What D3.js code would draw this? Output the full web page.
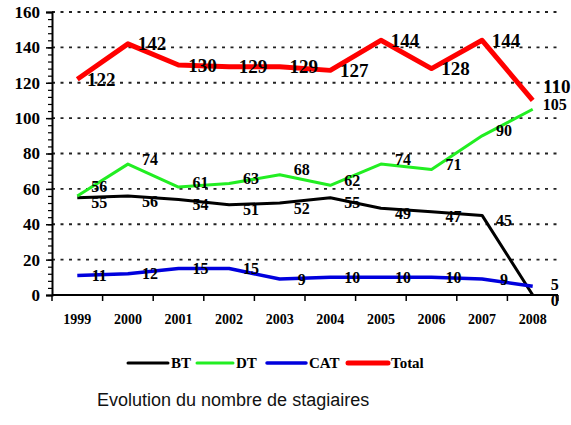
<!DOCTYPE html>
<html>
<head>
<meta charset="utf-8">
<script src="https://cdn.jsdelivr.net/npm/d3@7"></script>
<style>
  body { margin: 0; background: #fff; }
  svg { display: block; }
  .tick-label { font-family: "Liberation Serif", "Times New Roman", serif; font-weight: bold; }
</style>
</head>
<body>
<svg id="chart" width="571" height="425"></svg>
<script>
var years = ["1999", "2000", "2001", "2002", "2003", "2004", "2005", "2006", "2007", "2008"];
var bt = [55, 56, 54, 51, 52, 55, 49, 47, 45, 0];
var dt = [56, 74, 61, 63, 68, 62, 74, 71, 90, 105];
var cat = [11, 12, 15, 15, 9, 10, 10, 10, 9, 5];
var total = [122, 142, 130, 129, 129, 127, 144, 128, 144, 110];
var yTicks = [0, 20, 40, 60, 80, 100, 120, 140, 160];
var seriesNames = ["BT", "DT", "CAT", "Total"];
var title = "Evolution du nombre de stagiaires";

var series = [
  { name: "BT", values: bt, color: "#000000", width: 3, dy: 5, size: 16 },
  { name: "DT", values: dt, color: "#22ee22", width: 3, dy: -5, size: 16 },
  { name: "CAT", values: cat, color: "#0000dd", width: 3.5, dy: 0, size: 16 },
  { name: "Total", values: total, color: "#ff0000", width: 5, dy: 0, size: 19 }
];

var svg = d3.select("#chart");
var plotLeft = 52, plotRight = 558, plotTop = 12, plotBottom = 295;

var x = d3.scaleBand().domain(years).range([plotLeft, plotRight]).padding(0);
var y = d3.scaleLinear().domain([0, 160]).range([plotBottom, plotTop]);

// dotted grid lines
svg.append("g")
  .selectAll("line")
  .data(yTicks.filter(function(d) { return d > 0; }))
  .enter()
  .append("line")
  .attr("x1", plotLeft)
  .attr("x2", plotRight)
  .attr("y1", function(d) { return y(d); })
  .attr("y2", function(d) { return y(d); })
  .attr("stroke", "#222")
  .attr("stroke-width", 1.8)
  .attr("stroke-dasharray", "3,5.5");

// y axis with minor ticks
var yAxisMinor = d3.axisLeft(y).tickValues(d3.range(0, 161, 4)).tickSize(4).tickFormat("");
svg.append("g")
  .attr("transform", "translate(" + plotLeft + ",0)")
  .call(yAxisMinor)
  .call(function(g) {
    g.select(".domain").remove();
    g.selectAll("line").attr("stroke", "#000").attr("stroke-width", 1.2);
  });

var yAxis = d3.axisLeft(y).tickValues(yTicks).tickSize(6).tickPadding(6);
svg.append("g")
  .attr("transform", "translate(" + plotLeft + ",0)")
  .call(yAxis)
  .call(function(g) {
    g.select(".domain").attr("stroke", "#000").attr("stroke-width", 2);
    g.selectAll("line").attr("stroke", "#000").attr("stroke-width", 1.5);
    g.selectAll("text")
      .attr("class", "tick-label")
      .style("font-size", "17px")
      .attr("fill", "#000");
  });

// x axis: ticks on band edges, labels on band centres
var xAxisG = svg.append("g").attr("transform", "translate(0," + plotBottom + ")");
xAxisG.append("line")
  .attr("x1", plotLeft).attr("x2", plotRight)
  .attr("stroke", "#000").attr("stroke-width", 2);
xAxisG.selectAll("line.edge")
  .data(years.concat(["end"]))
  .enter()
  .append("line")
  .attr("class", "edge")
  .attr("x1", function(d, i) { return plotLeft + i * x.bandwidth(); })
  .attr("x2", function(d, i) { return plotLeft + i * x.bandwidth(); })
  .attr("y1", 0)
  .attr("y2", 6)
  .attr("stroke", "#000")
  .attr("stroke-width", 1.5);
xAxisG.selectAll("text")
  .data(years)
  .enter()
  .append("text")
  .attr("class", "tick-label")
  .attr("x", function(d) { return x(d) + x.bandwidth() / 2; })
  .attr("y", 29)
  .attr("text-anchor", "middle")
  .style("font-size", "14px")
  .text(function(d) { return d; });

// lines
var line = d3.line()
  .x(function(d, i) { return x(years[i]) + x.bandwidth() / 2; })
  .y(function(d) { return y(d); });

svg.append("g")
  .selectAll("path")
  .data(series)
  .enter()
  .append("path")
  .attr("d", function(s) { return line(s.values); })
  .attr("fill", "none")
  .attr("stroke", function(s) { return s.color; })
  .attr("stroke-width", function(s) { return s.width; })
  .attr("stroke-linejoin", "round");

// data labels, nudged apart when they collide at the same year
var labels = [];
series.forEach(function(s) {
  s.values.forEach(function(v, i) {
    labels.push({
      series: s,
      value: v,
      index: i,
      x: x(years[i]) + x.bandwidth() / 2 + (s.name === "Total" ? 24 : 22),
      y: y(v) + s.dy
    });
  });
});
years.forEach(function(yr, i) {
  var group = labels.filter(function(l) { return l.index === i; })
    .sort(function(a, b) { return b.y - a.y; });
  for (var k = 1; k < group.length; k++) {
    var gap = group[k].series.size >= 19 ? 18 : 16;
    if (group[k - 1].y - group[k].y < gap) {
      group[k].y = group[k - 1].y - gap;
    }
  }
});

svg.append("g")
  .selectAll("text")
  .data(labels)
  .enter()
  .append("text")
  .attr("class", "tick-label")
  .attr("x", function(d) { return d.x; })
  .attr("y", function(d) { return d.y; })
  .attr("dy", "0.35em")
  .attr("text-anchor", "middle")
  .style("font-size", function(d) { return d.series.size + "px"; })
  .attr("fill", "#000")
  .text(function(d) { return d.value; });

// legend
var legendItems = [
  { x: 128, w: 40 },
  { x: 197, w: 36 },
  { x: 267, w: 39 },
  { x: 348, w: 40 }
];
var legend = svg.append("g").attr("transform", "translate(0,363)");
seriesNames.forEach(function(name, i) {
  var s = series[i];
  var item = legendItems[i];
  legend.append("line")
    .attr("x1", item.x).attr("x2", item.x + item.w)
    .attr("stroke", s.color)
    .attr("stroke-width", s.width)
    .attr("stroke-linecap", "round");
  legend.append("text")
    .attr("class", "tick-label")
    .attr("x", item.x + item.w + 3)
    .attr("dy", "0.35em")
    .style("font-size", "15px")
    .text(name);
});

svg.append("text")
  .attr("x", 97)
  .attr("y", 406)
  .style("font-family", "'Liberation Sans', Arial, sans-serif")
  .style("font-size", "18px")
  .attr("fill", "#111")
  .text(title);
</script>
</body>
</html>
